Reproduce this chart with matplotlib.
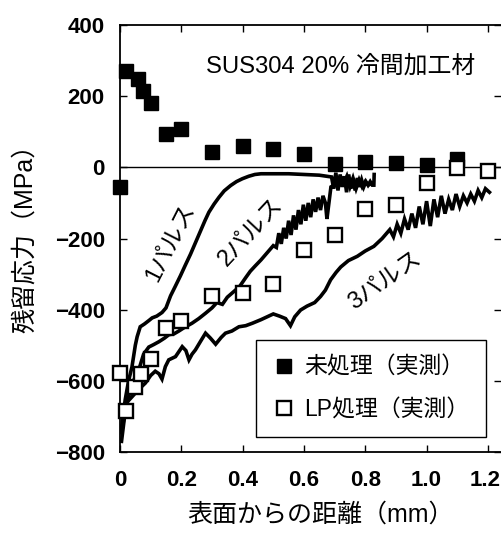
import matplotlib
matplotlib.use("Agg")
import matplotlib.pyplot as plt
import matplotlib.transforms as mtransforms

plt.rcParams['font.family'] = ['Liberation Sans', 'Noto Sans CJK JP', 'DejaVu Sans']
plt.rcParams['axes.unicode_minus'] = True

JP = ['Liberation Sans', 'Noto Sans CJK JP', 'DejaVu Sans']

# measured: untreated
x_untreated = [0, 0.02, 0.06, 0.075, 0.1, 0.15, 0.2, 0.3, 0.4, 0.5, 0.6, 0.7, 0.8, 0.9, 1.0, 1.1]
y_untreated = [-55, 271, 248, 215, 182, 93, 107, 43, 60, 51, 37, 10, 16, 13, 6, 24]

# measured: LP treated
x_lp = [0, 0.02, 0.05, 0.07, 0.1, 0.15, 0.2, 0.3, 0.4, 0.5, 0.6, 0.7, 0.8, 0.9, 1.0, 1.1, 1.2]
y_lp = [-578, -684, -618, -580, -539, -452, -433, -362, -353, -328, -231, -189, -116, -107, -43, -1, -10]

# simulated 1 pulse
x_p1 = [0.003, 0.01, 0.017, 0.028, 0.039, 0.05, 0.056, 0.066, 0.08, 0.095, 0.105, 0.12, 0.137,
        0.15, 0.165, 0.18, 0.197, 0.213, 0.23, 0.247, 0.263, 0.277, 0.29, 0.307, 0.323, 0.34,
        0.361, 0.38, 0.399, 0.42, 0.44, 0.46, 0.5, 0.55, 0.6, 0.65, 0.69,
        0.697, 0.704, 0.711, 0.718, 0.725, 0.732, 0.739, 0.746, 0.753, 0.76, 0.767, 0.774,
        0.781, 0.788, 0.795, 0.802, 0.809, 0.816, 0.823, 0.828, 0.829]
y_p1 = [-745, -700, -653, -600, -561, -500, -476, -448, -440, -430, -423, -418, -408,
        -395, -361, -335, -305, -275, -244, -210, -178, -150, -126, -103, -84, -66,
        -51, -40, -32, -25, -20, -18, -18, -18, -20, -22, -27,
        -60, -15, -65, -20, -55, -25, -70, -20, -60, -30, -65, -30,
        -55, -35, -55, -40, -50, -40, -50, -50, -20]

# simulated 2 pulses
x_p2 = [0.005, 0.016, 0.028, 0.044, 0.061, 0.077, 0.094, 0.11, 0.127, 0.145, 0.16, 0.176, 0.192,
        0.21, 0.235, 0.257, 0.279, 0.3, 0.316, 0.334, 0.35, 0.37, 0.39, 0.41, 0.425, 0.44, 0.46,
        0.48, 0.5, 0.51, 0.518, 0.526, 0.534, 0.542, 0.55, 0.558, 0.566, 0.574, 0.582, 0.59,
        0.598, 0.606, 0.614, 0.622, 0.63, 0.638, 0.646, 0.654, 0.662, 0.67, 0.675, 0.68, 0.688,
        0.698, 0.71, 0.72, 0.73, 0.74, 0.75, 0.76, 0.77, 0.78, 0.79, 0.8, 0.81, 0.818]
y_p2 = [-745, -690, -645, -600, -570, -525, -505, -498, -490, -480, -470, -468, -460,
        -450, -438, -425, -410, -395, -380, -385, -365, -350, -335, -310, -292, -278, -260,
        -240, -220, -225, -185, -215, -170, -200, -150, -190, -135, -175, -120, -160,
        -105, -150, -100, -140, -90, -125, -85, -120, -80, -100, -145, -110, -55,
        -50, -35, -32, -45, -25, -55, -30, -60, -35, -55, -40, -50, -46]

# simulated 3 pulses
x_p3 = [0.005, 0.015, 0.023, 0.039, 0.06, 0.083, 0.1, 0.115, 0.127, 0.137, 0.148, 0.159, 0.181,
        0.203, 0.215, 0.225, 0.235, 0.246, 0.262, 0.279, 0.295, 0.312, 0.33, 0.344, 0.365, 0.388,
        0.41, 0.432, 0.46, 0.48, 0.5, 0.52, 0.54, 0.556, 0.57, 0.589, 0.61, 0.635, 0.654, 0.67,
        0.687, 0.705, 0.72, 0.745, 0.774, 0.8, 0.828, 0.855, 0.88, 0.892, 0.904, 0.916, 0.928,
        0.94, 0.952, 0.964, 0.976, 0.988, 1.0, 1.012, 1.024, 1.036, 1.048, 1.06, 1.072, 1.084,
        1.096, 1.108, 1.12, 1.132, 1.144, 1.156, 1.168, 1.18, 1.192, 1.205]
y_p3 = [-770, -700, -660, -645, -625, -606, -585, -573, -580, -595, -560, -541, -532,
        -504, -515, -541, -525, -513, -490, -466, -480, -497, -478, -466, -460, -448,
        -445, -438, -428, -420, -412, -418, -425, -445, -420, -401, -390, -380, -363, -345,
        -316, -295, -280, -262, -250, -235, -222, -200, -175, -195, -160, -185, -145,
        -175, -130, -170, -110, -160, -95, -165, -90, -140, -80, -130, -90, -120,
        -75, -110, -80, -100, -75, -95, -65, -85, -60, -70]

fig = plt.figure(figsize=(5.01, 5.36), dpi=100)
ax = fig.add_axes([0.2395, 0.1567, 0.7605, 0.7966])

ax.axhline(0, color='k', lw=1.0, zorder=1)
for xs, ys in [(x_p1, y_p1), (x_p2, y_p2), (x_p3, y_p3)]:
    ax.plot(xs, ys, color='k', lw=2.6, solid_joinstyle='miter', zorder=2)

ax.plot(x_untreated, y_untreated, 's', color='k', ms=10, zorder=3, clip_on=False,
        label='未処理（実測）')
ax.plot(x_lp, y_lp, 's', mfc='white', mec='k', mew=1.7, ms=10, zorder=3, clip_on=False,
        label='LP処理（実測）')

ax.set_xlim(0, 1.2427)
ax.set_ylim(-800, 400)
ax.set_xticks([0, 0.2, 0.4, 0.6, 0.8, 1.0, 1.2])
ax.set_xticklabels(['0', '0.2', '0.4', '0.6', '0.8', '1.0', '1.2'])
ax.set_yticks([-800, -600, -400, -200, 0, 200, 400])
ax.tick_params(direction='in', length=5, width=1, top=True, right=True, labelsize=16)
ax.tick_params(axis='y', pad=11)
ax.tick_params(axis='x', pad=13)
for lab in ax.get_xticklabels() + ax.get_yticklabels():
    lab.set_fontweight('bold')
# keep the last x label inside the figure
last = ax.get_xticklabels()[-1]
last.set_transform(last.get_transform() + mtransforms.ScaledTranslation(-3 / 100, 0, fig.dpi_scale_trans))
for s in ['left', 'bottom', 'top']:
    ax.spines[s].set_linewidth(1.3)
ax.spines['right'].set_visible(False)

ax.text(0.719, 284, 'SUS304 20% 冷間加工材', fontsize=17.2, family=JP, ha='center', va='center')
ax.text(0.166, -212, '1パルス', fontsize=17, family=JP, rotation=63, ha='center', va='center')
ax.text(0.428, -182, '2パルス', fontsize=17, family=JP, rotation=47, ha='center', va='center')
ax.text(0.863, -317, '3パルス', fontsize=17, family=JP, rotation=35, ha='center', va='center')

leg = ax.legend(loc='lower left', bbox_to_anchor=(0.358, 0.035, 0.603, 0.211), mode='expand',
                frameon=True, fancybox=False, framealpha=1, edgecolor='k', handletextpad=0.4,
                borderpad=0.7, handlelength=1.0, labelspacing=0.85, borderaxespad=0,
                prop={'family': JP, 'size': 16.5})
leg.get_frame().set_linewidth(1.0)

fig.text(25 / 501, 1 - 232 / 536, '残留応力（MPa）', rotation=90, fontsize=18, family=JP,
         ha='center', va='center')
fig.text(321 / 501, 1 - 515 / 536, '表面からの距離（mm）', fontsize=18, family=JP,
         ha='center', va='center')

fig.savefig('out.png', dpi=100)
